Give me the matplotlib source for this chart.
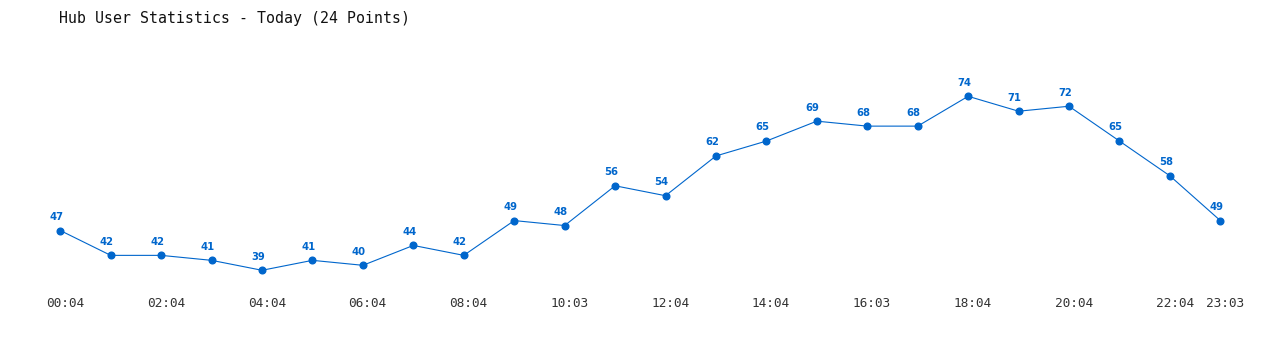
import matplotlib
matplotlib.use("Agg")
import matplotlib.pyplot as plt
from matplotlib.transforms import ScaledTranslation

title = "Hub User Statistics - Today (24 Points)"
values = [47, 42, 42, 41, 39, 41, 40, 44, 42, 49, 48, 56, 54, 62, 65, 69, 68, 68, 74, 71, 72, 65, 58, 49]
tick_positions = [0, 2, 4, 6, 8, 10, 12, 14, 16, 18, 20, 22, 23]
tick_labels = ["00:04", "02:04", "04:04", "06:04", "08:04", "10:03", "12:04",
               "14:04", "16:03", "18:04", "20:04", "22:04", "23:03"]

W, H, DPI = 1280, 350, 100
blue = "#0066cc"

fig = plt.figure(figsize=(W / DPI, H / DPI), dpi=DPI)
fig.patch.set_facecolor("white")

# pixel layout
x0_px, dx_px = 60.3, 50.435
y74_px, dy_px = 96.3, 4.971
ax_top_px, ax_bot_px = 40, 292
ax = fig.add_axes([0, 1 - ax_bot_px / H, 1, (ax_bot_px - ax_top_px) / H])
ax.set_xlim(-x0_px / dx_px, (W - x0_px) / dx_px)
ax.set_ylim(74 - (ax_bot_px - y74_px) / dy_px, 74 + (y74_px - ax_top_px) / dy_px)

xs = list(range(len(values)))
ax.plot(xs, values, color=blue, linewidth=0.8, marker="o", markersize=4.8,
        markerfacecolor=blue, markeredgecolor=blue, zorder=3)

for x, v in zip(xs, values):
    ax.annotate(str(v), (x, v), xytext=(-2.9, 9.8), textcoords="offset points",
                ha="center", va="center", fontsize=7.2, fontweight="bold",
                color=blue, family="DejaVu Sans")

for s in ax.spines.values():
    s.set_visible(False)
ax.set_yticks([])
ax.set_xticks(tick_positions)
ax.set_xticklabels(tick_labels, family="DejaVu Sans Mono", fontsize=9.2, color="#333333")
ax.tick_params(axis="x", length=0, pad=3.5)
off = ScaledTranslation(4.7 / DPI, 0, fig.dpi_scale_trans)
for lab in ax.get_xticklabels():
    lab.set_transform(lab.get_transform() + off)

fig.text(59 / W, 1 - 18.3 / H, title, ha="left", va="center",
         family="DejaVu Sans Mono", fontsize=10.75, color="#111111")

fig.savefig("out.png", dpi=DPI, facecolor="white")
